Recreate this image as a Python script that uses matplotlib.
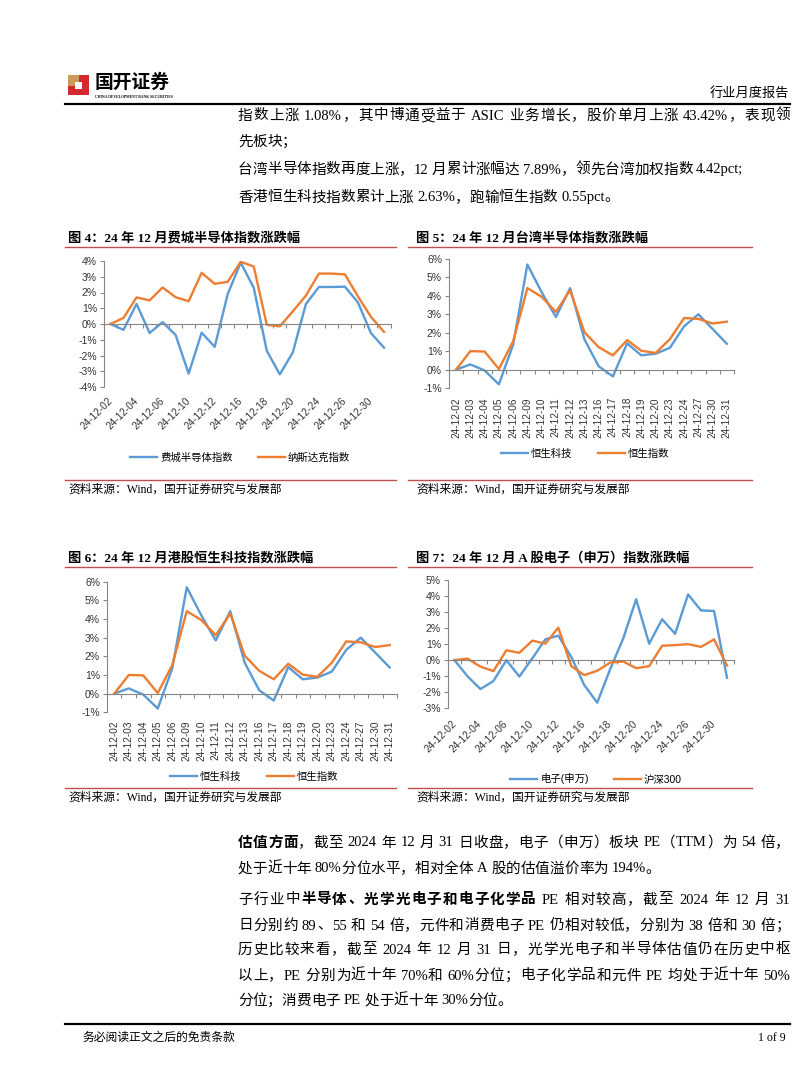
import numpy as np
import matplotlib
matplotlib.use('Agg')
import matplotlib.pyplot as plt
from matplotlib.patches import Rectangle
from matplotlib.lines import Line2D

# ---------------- data ----------------
dates_us = ['24-12-02', '24-12-03', '24-12-04', '24-12-05', '24-12-06', '24-12-09', '24-12-10',
            '24-12-11', '24-12-12', '24-12-13', '24-12-16', '24-12-17', '24-12-18', '24-12-19',
            '24-12-20', '24-12-23', '24-12-24', '24-12-25', '24-12-26', '24-12-27', '24-12-30',
            '24-12-31']
phlx_semi = [0.0, -0.37, 1.28, -0.57, 0.12, -0.70, -3.15, -0.55, -1.45, 1.90, 3.90, 2.30,
             -1.70, -3.20, -1.80, 1.26, 2.35, 2.35, 2.37, 1.37, -0.58, -1.50]
nasdaq = [0.0, 0.39, 1.69, 1.50, 2.32, 1.70, 1.45, 3.25, 2.55, 2.68, 3.95, 3.65,
          -0.05, -0.15, 0.80, 1.80, 3.20, 3.20, 3.15, 1.75, 0.45, -0.50]

dates_hk = ['24-12-02', '24-12-03', '24-12-04', '24-12-05', '24-12-06', '24-12-09', '24-12-10',
            '24-12-11', '24-12-12', '24-12-13', '24-12-16', '24-12-17', '24-12-18', '24-12-19',
            '24-12-20', '24-12-23', '24-12-24', '24-12-27', '24-12-30', '24-12-31']
hs_tech = [0.0, 0.28, -0.05, -0.80, 1.35, 5.70, 4.20, 2.85, 4.42, 1.65, 0.18, -0.37, 1.42,
           0.77, 0.86, 1.18, 2.35, 3.00, 2.20, 1.40]
hsi = [0.0, 1.00, 0.98, 0.03, 1.53, 4.42, 3.95, 3.13, 4.30, 2.03, 1.22, 0.77, 1.60,
       1.02, 0.90, 1.65, 2.80, 2.75, 2.50, 2.60]

dates_a = ['24-12-02', '24-12-03', '24-12-04', '24-12-05', '24-12-06', '24-12-09', '24-12-10',
           '24-12-11', '24-12-12', '24-12-13', '24-12-16', '24-12-17', '24-12-18', '24-12-19',
           '24-12-20', '24-12-23', '24-12-24', '24-12-25', '24-12-26', '24-12-27', '24-12-30',
           '24-12-31']
elec_sw = [0.0, -1.00, -1.80, -1.30, 0.0, -1.02, 0.12, 1.30, 1.53, 0.20, -1.55, -2.65,
           -0.55, 1.35, 3.80, 1.03, 2.55, 1.65, 4.10, 3.10, 3.07, -1.10]
csi300 = [0.0, 0.10, -0.40, -0.68, 0.62, 0.46, 1.22, 1.03, 2.03, -0.37, -0.93, -0.66,
          -0.15, -0.08, -0.50, -0.37, 0.90, 0.94, 1.00, 0.83, 1.30, -0.33]

# ---------------- page setup ----------------
W, H = 802, 1087
fig = plt.figure(figsize=(W / 100, H / 100), dpi=100)
fig.patch.set_facecolor('white')

SERIF_CJK = ['Liberation Serif', 'Noto Sans CJK SC']
SANS_CJK = ['Liberation Sans', 'Noto Sans CJK SC']
BLUE = '#5B9BD5'
ORANGE = '#ED7D31'
GRAY = '#868686'
RED = '#C0504D'


def fx(x):
    return x / W


def fy(y):
    return 1 - y / H


def hline(y, x0, x1, color='black', lw=1.0):
    fig.add_artist(Line2D([fx(x0), fx(x1)], [fy(y), fy(y)], transform=fig.transFigure,
                          color=color, lw=lw))


renderer = fig.canvas.get_renderer()
_meas = fig.text(0, 0, '', family=SERIF_CJK)
_base = {}


def adv(tok, bold, size):
    _meas.set_fontsize(size)
    _meas.set_fontweight('bold' if bold else 'normal')
    key = (bold, size)
    if key not in _base:
        _meas.set_text('中中')
        _base[key] = _meas.get_window_extent(renderer).width
    _meas.set_text('中' + tok + '中')
    return _meas.get_window_extent(renderer).width - _base[key]


def tokens_of(text):
    toks, buf = [], ''
    for ch in text:
        if ord(ch) < 128 and ch != ' ':
            buf += ch
        else:
            if buf:
                toks.append(buf)
                buf = ''
            toks.append(ch)
    if buf:
        toks.append(buf)
    return toks


def draw_runs(x0, y, runs, size=10.5, x1=None):
    items = []
    for txt, bold in runs:
        for tok in tokens_of(txt):
            items.append((tok, bold, adv(tok, bold, size)))
    total = sum(w for _, _, w in items)
    extra = 0.0
    if x1 is not None and len(items) > 1:
        extra = (x1 - x0 - total) / (len(items) - 1)
    x = x0
    for tok, bold, w in items:
        if tok != ' ':
            fig.text(fx(x), fy(y), tok, fontsize=size, family=SERIF_CJK,
                     fontweight='bold' if bold else 'normal', va='center', ha='left')
        x += w + extra


# ---------------- header ----------------
fig.add_artist(Rectangle((fx(68), fy(95)), 21 / W, 20 / H, transform=fig.transFigure,
                         facecolor='#D42A2F', edgecolor='none'))
fig.add_artist(Rectangle((fx(68), fy(85.5)), 10.5 / W, 10.5 / H, transform=fig.transFigure,
                         facecolor='#C89B5A', edgecolor='none'))
fig.add_artist(Rectangle((fx(74.5), fy(88.5)), 7 / W, 7 / H, transform=fig.transFigure,
                         facecolor='white', edgecolor='none'))
fig.text(fx(95), fy(83), '国开证券', fontsize=13.5, fontweight='bold', family=SERIF_CJK,
         va='center', ha='left')
fig.text(fx(95), fy(96.5), 'CHINA DEVELOPMENT BANK SECURITIES', fontsize=2.7, fontweight='bold',
         family=['Liberation Serif'], va='center', ha='left')
fig.text(fx(789), fy(93), '行业月度报告', fontsize=9.5, family=SERIF_CJK, va='center', ha='right')
hline(104, 65, 790, 'black', 1.6)

# ---------------- top body text ----------------
XL, XR = 238, 790
draw_runs(XL, 116, [('指数上涨 1.08%，其中博通受益于 ASIC 业务增长，股价单月上涨 43.42%，表现领', False)], x1=XR)
draw_runs(XL, 142, [('先板块；', False)])
draw_runs(XL, 170, [('台湾半导体指数再度上涨，12 月累计涨幅达 7.89%，领先台湾加权指数 4.42pct;', False)])
draw_runs(XL, 198, [('香港恒生科技指数累计上涨 2.63%，跑输恒生指数 0.55pct。', False)])


# ---------------- charts ----------------
def chart(box, cats, s1, s2, names, ylim, every, rot, pad, leg_center):
    l, r, t, b = box
    ax = fig.add_axes([fx(l), fy(b), (r - l) / W, (b - t) / H])
    x = np.arange(len(cats))
    ax.plot(x, s1, color=BLUE, lw=1.7, label=names[0])
    ax.plot(x, s2, color=ORANGE, lw=1.7, label=names[1])
    ax.set_xlim(-0.5, len(cats) - 0.5)
    ax.set_ylim(*ylim)
    yt = list(range(ylim[0], ylim[1] + 1))
    ax.set_yticks(yt)
    ax.set_yticklabels([f'{v}%' for v in yt], family=['Liberation Sans'], fontsize=7.5,
                       color='#333333')
    for s in ('top', 'right'):
        ax.spines[s].set_visible(False)
    ax.spines['left'].set_color(GRAY)
    ax.spines['left'].set_linewidth(0.8)
    ax.spines['bottom'].set_position(('data', 0))
    ax.spines['bottom'].set_color(GRAY)
    ax.spines['bottom'].set_linewidth(0.8)
    ax.set_xticks(np.arange(len(cats) + 1) - 0.5)
    ax.tick_params(axis='x', labelbottom=False, length=3, direction='out', color=GRAY, width=0.8)
    ax.tick_params(axis='y', length=3, direction='out', color=GRAY, width=0.8, pad=2)
    ax.patch.set_alpha(0)
    sec = ax.secondary_xaxis(0.0)
    sec.spines['bottom'].set_visible(False)
    sec.set_xticks(x[::every], labels=[cats[i] for i in range(0, len(cats), every)])
    sec.tick_params(length=0, pad=pad, labelsize=7.2, labelcolor='#333333')
    for lab in sec.get_xticklabels():
        lab.set_family(['Liberation Sans'])
        if rot == 45:
            lab.set_rotation(45)
            lab.set_ha('right')
            lab.set_va('center')
            lab.set_rotation_mode('anchor')
        else:
            lab.set_rotation(90)
            lab.set_ha('center')
            lab.set_va('top')
    ax.legend(loc='center', bbox_to_anchor=(fx(leg_center[0]), fy(leg_center[1])),
              bbox_transform=fig.transFigure, ncol=2, frameon=False,
              prop={'family': SANS_CJK, 'size': 7.5}, handlelength=2.6,
              columnspacing=2.4, handletextpad=0.3)
    return ax


def fig_title(x, y, text, x0, x1):
    fig.text(fx(x), fy(y), text, fontsize=9.5, fontweight='bold', family=SERIF_CJK,
             va='center', ha='left')
    hline(y + 9, x0, x1, RED, 1.0)


def source(x, y, x0, x1):
    hline(y - 10, x0, x1, RED, 1.0)
    fig.text(fx(x), fy(y), '资料来源：Wind，国开证券研究与发展部', fontsize=8.5,
             family=SERIF_CJK, va='center', ha='left')


fig_title(68, 238, '图 4：24 年 12 月费城半导体指数涨跌幅', 65, 396)
chart((104, 390.5, 261, 387), dates_us, phlx_semi, nasdaq, ['费城半导体指数', '纳斯达克指数'],
      (-4, 4), 2, 45, 9, (240, 458))
source(68, 490, 65, 396)

fig_title(416, 238, '图 5：24 年 12 月台湾半导体指数涨跌幅', 408, 752)
chart((449, 734, 259, 388), dates_hk, hs_tech, hsi, ['恒生科技', '恒生指数'],
      (-1, 6), 1, 90, 6.5, (585, 454))
source(416, 490, 408, 752)

fig_title(68, 558, '图 6：24 年 12 月港股恒生科技指数涨跌幅', 65, 396)
chart((107, 397, 581.7, 712.3), dates_hk, hs_tech, hsi, ['恒生科技', '恒生指数'],
      (-1, 6), 1, 90, 6, (254, 777))
source(68, 798, 65, 396)

fig_title(416, 558, '图 7：24 年 12 月 A 股电子（申万）指数涨跌幅', 408, 752)
chart((448, 733.5, 580, 708.3), dates_a, elec_sw, csi300, ['电子(申万)', '沪深300'],
      (-3, 5), 2, 45, 10, (596, 779))
source(416, 798, 408, 752)

# ---------------- bottom body text ----------------
draw_runs(XL, 843, [('估值方面', True), ('，截至 2024 年 12 月 31 日收盘，电子（申万）板块 PE（TTM）为 54 倍，', False)], x1=XR)
draw_runs(XL, 869, [('处于近十年 80%分位水平，相对全体 A 股的估值溢价率为 194%。', False)])
draw_runs(XL, 900, [('子行业中', False), ('半导体、光学光电子和电子化学品', True), (' PE 相对较高，截至 2024 年 12 月 31', False)], x1=XR)
draw_runs(XL, 926, [('日分别约 89、55 和 54 倍，元件和消费电子 PE 仍相对较低，分别为 38 倍和 30 倍；', False)], x1=XR)
draw_runs(XL, 950, [('历史比较来看，截至 2024 年 12 月 31 日，光学光电子和半导体估值仍在历史中枢', False)], x1=XR)
draw_runs(XL, 976, [('以上，PE 分别为近十年 70%和 60%分位；电子化学品和元件 PE 均处于近十年 50%', False)], x1=XR)
draw_runs(XL, 1001, [('分位；消费电子 PE 处于近十年 30%分位。', False)])

# ---------------- footer ----------------
hline(1024, 65, 790, 'black', 1.6)
fig.text(fx(82), fy(1038), '务必阅读正文之后的免责条款', fontsize=8.5, family=SERIF_CJK,
         va='center', ha='left')
fig.text(fx(786), fy(1038), '1 of 9', fontsize=8.5, family=SERIF_CJK, va='center', ha='right')

_meas.remove()
fig.savefig('out.png', dpi=100, facecolor='white')
